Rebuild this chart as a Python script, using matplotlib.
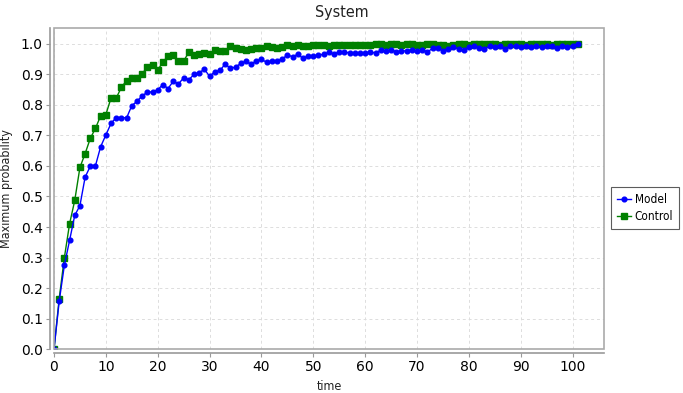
import matplotlib
matplotlib.use("Agg")
import matplotlib.pyplot as plt
from matplotlib.patches import Rectangle

# Data
time = list(range(0, 102))
model = [
    0.0, 0.157, 0.275, 0.356, 0.438, 0.470, 0.563, 0.599, 0.601, 0.663,
    0.701, 0.739, 0.758, 0.758, 0.757, 0.797, 0.811, 0.829, 0.841, 0.842,
    0.849, 0.866, 0.853, 0.877, 0.868, 0.888, 0.882, 0.899, 0.905, 0.916,
    0.893, 0.908, 0.912, 0.933, 0.919, 0.923, 0.935, 0.942, 0.932, 0.944,
    0.948, 0.939, 0.942, 0.943, 0.949, 0.963, 0.957, 0.965, 0.952, 0.959,
    0.959, 0.962, 0.965, 0.971, 0.966, 0.973, 0.971, 0.970, 0.970, 0.970,
    0.970, 0.971, 0.970, 0.978, 0.976, 0.980, 0.973, 0.976, 0.976, 0.980,
    0.976, 0.980, 0.973, 0.984, 0.986, 0.976, 0.982, 0.988, 0.982, 0.978,
    0.988, 0.991, 0.987, 0.983, 0.991, 0.990, 0.991, 0.982, 0.991, 0.993,
    0.988, 0.991, 0.989, 0.991, 0.989, 0.993, 0.991, 0.987, 0.993, 0.989,
    0.993, 1.0,
]
control = [
    0.0, 0.166, 0.300, 0.410, 0.487, 0.595, 0.640, 0.690, 0.723, 0.764,
    0.768, 0.822, 0.822, 0.857, 0.879, 0.887, 0.889, 0.902, 0.923, 0.931,
    0.913, 0.940, 0.959, 0.963, 0.943, 0.943, 0.972, 0.963, 0.966, 0.969,
    0.965, 0.979, 0.976, 0.975, 0.992, 0.985, 0.983, 0.979, 0.983, 0.984,
    0.985, 0.991, 0.990, 0.987, 0.989, 0.996, 0.991, 0.995, 0.993, 0.993,
    0.997, 0.997, 0.997, 0.992, 0.996, 0.996, 0.996, 0.996, 0.996, 0.996,
    0.996, 0.996, 1.0, 0.998, 0.995, 1.0, 0.998, 0.995, 1.0, 1.0,
    0.997, 0.994, 0.999, 0.999, 0.997, 0.997, 0.993, 0.997, 0.998, 0.998,
    0.995, 1.0, 1.0, 0.998, 1.0, 1.0, 0.996, 0.998, 0.998, 0.998,
    0.998, 0.996, 0.998, 0.998, 0.998, 0.998, 0.996, 0.998, 0.998, 0.998,
    1.0, 1.0,
]
x_ticks = list(range(0, 101, 10))
y_ticks = [i / 10 for i in range(0, 11)]

W, H = 683, 393
fig = plt.figure(figsize=(W / 100, H / 100), dpi=100)
ax = fig.add_axes([54 / W, (H - 349.3) / H, (604 - 54) / W, (349.3 - 28.3) / H])

font = dict(family="DejaVu Sans", stretch="condensed")

ax.plot(time, model, color="#0000ff", marker="o", markersize=3.4, linewidth=1,
        label="Model", zorder=4)
ax.plot(time, control, color="#008000", marker="s", markersize=3.8, linewidth=1,
        label="Control", zorder=3)

ax.set_xlim(0, 106.05)
ax.set_ylim(0, 1.05)
ax.set_xticks(x_ticks)
ax.set_yticks(y_ticks)
ax.set_yticklabels(["%.1f" % v for v in y_ticks], fontsize=9, color="#444444", **font)
ax.set_xticklabels([str(v) for v in x_ticks], fontsize=9, color="#444444", **font)
ax.tick_params(direction="out", length=3, width=0.8, color="#999999", pad=2)

ax.grid(True, color="#dddddd", linestyle=(0, (3, 3)), linewidth=0.7)
ax.set_axisbelow(True)

# JFreeChart-like look: offset axis lines plus a gray plot outline
for side in ["top", "right"]:
    ax.spines[side].set_visible(False)
for side in ["left", "bottom"]:
    ax.spines[side].set_position(("outward", 3))
    ax.spines[side].set_color("#999999")
    ax.spines[side].set_linewidth(1.2)
ax.add_patch(Rectangle((0, 0), 1, 1, transform=ax.transAxes, fill=False,
                       edgecolor="#aaaaaa", linewidth=1.2, clip_on=False, zorder=5))

ax.set_xlabel("time", fontsize=9, color="#222222", labelpad=4, **font)
ax.set_ylabel("Maximum probability", fontsize=9, color="#222222", labelpad=6, **font)
fig.text(0.5, 1 - 12 / H, "System", ha="center", va="center", fontsize=11.5,
         color="#222222", **font)

leg = ax.legend(loc="center left", bbox_to_anchor=(1.0127, 0.44),
                frameon=True, fancybox=False, edgecolor="#333333",
                handlelength=1.2, handletextpad=0.3, borderpad=0.5,
                borderaxespad=0, labelspacing=0.3,
                prop=dict(size=8.5, **font))
leg.get_frame().set_linewidth(0.8)

fig.savefig("out.png", dpi=100)
